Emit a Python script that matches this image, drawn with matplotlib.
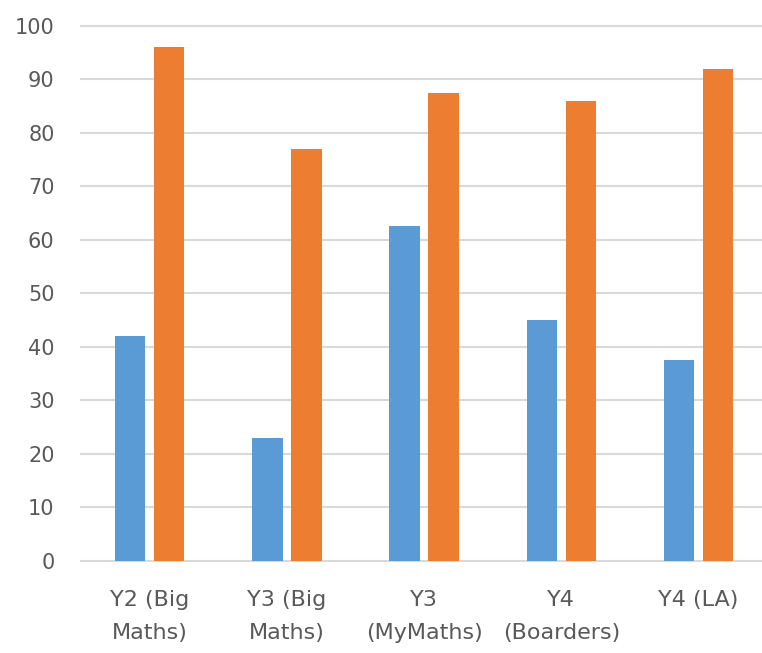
import numpy as np
import matplotlib.pyplot as plt

# categories and the two series
categories = ['Y2 (Big\nMaths)', 'Y3 (Big\nMaths)', 'Y3\n(MyMaths)', 'Y4\n(Boarders)', 'Y4 (LA)']
series_blue = [42, 23, 62.5, 45, 37.5]
series_orange = [96, 77, 87.5, 86, 92]

plt.rcParams['font.family'] = ['DejaVu Sans']

fig = plt.figure(figsize=(7.62, 6.53), dpi=100)
ax = fig.add_axes([0.1063, 0.1413, 0.9005, 0.8193])

x = np.arange(len(categories))
w = 0.223
ax.bar(x - 0.142, series_blue, width=w, color='#5B9BD5', zorder=3)
ax.bar(x + 0.142, series_orange, width=w, color='#ED7D31', zorder=3)

ax.set_xlim(-0.5, len(categories) - 0.5)
ax.set_ylim(0, 100)
ax.set_yticks(np.arange(0, 101, 10))
ax.set_xticks(x)
ax.set_xticklabels(categories, linespacing=1.8, fontsize=16)

ax.yaxis.grid(True, color='#D9D9D9', linewidth=1.5, zorder=0)
for gl in ax.get_ygridlines():
    gl.set_clip_on(False)
for s in ax.spines.values():
    s.set_visible(False)

ax.tick_params(axis='y', length=0, labelsize=15, colors='#595959', pad=19)
ax.tick_params(axis='x', length=0, colors='#595959', pad=21)

fig.savefig('out.png', dpi=100)
